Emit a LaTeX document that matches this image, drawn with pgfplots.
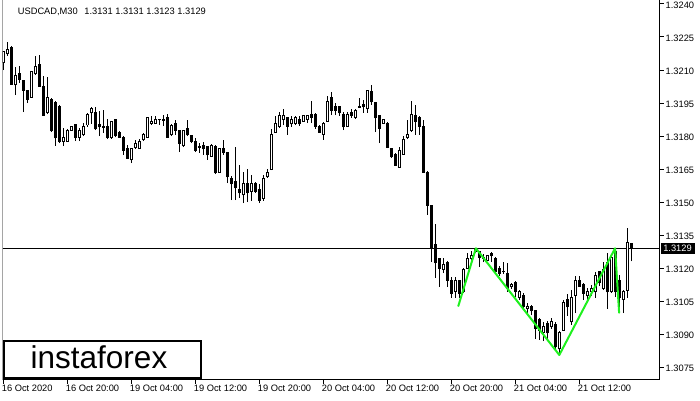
\documentclass[border=0pt]{standalone}
\usepackage{pgfplots}
\pgfplotsset{compat=1.18}
\usepackage{pgfplotstable}
\usepackage{fontspec}
\setmainfont{Liberation Sans}
\newfontfamily\logofont{Liberation Sans}
\definecolor{greenline}{RGB}{30,240,30}
\pgfplotstableread{
i O H L C
0 1.32132 1.32182 1.32100 1.32182
1 1.32173 1.32227 1.32164 1.32191
2 1.32200 1.32209 1.32032 1.32036
3 1.32032 1.32114 1.31986 1.32073
4 1.32082 1.32118 1.32041 1.32059
5 1.32050 1.32055 1.31909 1.32009
6 1.32005 1.32009 1.31950 1.31968
7 1.31977 1.32095 1.31973 1.32091
8 1.32082 1.32164 1.32077 1.32114
9 1.32123 1.32168 1.32023 1.32027
10 1.32023 1.32073 1.31891 1.31895
11 1.31905 1.32068 1.31900 1.31973
12 1.31968 1.31973 1.31818 1.31823
13 1.31950 1.31959 1.31755 1.31791
14 1.31932 1.31941 1.31768 1.31777
15 1.31777 1.31836 1.31755 1.31791
16 1.31777 1.31832 1.31773 1.31823
17 1.31827 1.31845 1.31823 1.31841
18 1.31850 1.31855 1.31777 1.31795
19 1.31795 1.31836 1.31777 1.31823
20 1.31805 1.31859 1.31800 1.31841
21 1.31850 1.31905 1.31841 1.31900
22 1.31905 1.31932 1.31855 1.31923
23 1.31909 1.31932 1.31827 1.31832
24 1.31850 1.31914 1.31800 1.31841
25 1.31842 1.31918 1.31814 1.31839
26 1.31845 1.31877 1.31786 1.31795
27 1.31791 1.31868 1.31786 1.31864
28 1.31873 1.31877 1.31795 1.31800
29 1.31818 1.31823 1.31791 1.31795
30 1.31795 1.31800 1.31714 1.31736
31 1.31745 1.31759 1.31695 1.31700
32 1.31691 1.31745 1.31677 1.31741
33 1.31750 1.31782 1.31741 1.31764
34 1.31745 1.31786 1.31741 1.31773
35 1.31782 1.31814 1.31777 1.31809
36 1.31795 1.31886 1.31791 1.31882
37 1.31859 1.31891 1.31850 1.31868
38 1.31859 1.31891 1.31855 1.31873
39 1.31873 1.31877 1.31850 1.31875
40 1.31872 1.31895 1.31845 1.31873
41 1.31882 1.31900 1.31791 1.31795
42 1.31805 1.31855 1.31800 1.31850
43 1.31859 1.31873 1.31805 1.31827
44 1.31823 1.31827 1.31727 1.31768
45 1.31755 1.31827 1.31750 1.31823
46 1.31832 1.31873 1.31800 1.31805
47 1.31800 1.31805 1.31768 1.31777
48 1.31773 1.31791 1.31727 1.31736
49 1.31752 1.31768 1.31723 1.31750
50 1.31759 1.31773 1.31714 1.31741
51 1.31750 1.31755 1.31691 1.31714
52 1.31709 1.31764 1.31705 1.31759
53 1.31750 1.31759 1.31627 1.31632
54 1.31636 1.31745 1.31632 1.31741
55 1.31741 1.31782 1.31714 1.31727
56 1.31723 1.31727 1.31586 1.31614
57 1.31609 1.31618 1.31509 1.31582
58 1.31591 1.31750 1.31509 1.31564
59 1.31559 1.31668 1.31518 1.31541
60 1.31532 1.31636 1.31495 1.31586
61 1.31582 1.31650 1.31500 1.31541
62 1.31550 1.31623 1.31505 1.31586
63 1.31582 1.31591 1.31541 1.31550
64 1.31559 1.31582 1.31495 1.31509
65 1.31518 1.31623 1.31505 1.31609
66 1.31614 1.31650 1.31609 1.31636
67 1.31650 1.31832 1.31645 1.31809
68 1.31818 1.31891 1.31814 1.31859
69 1.31845 1.31909 1.31836 1.31891
70 1.31877 1.31923 1.31850 1.31891
71 1.31882 1.31886 1.31805 1.31845
72 1.31855 1.31891 1.31841 1.31873
73 1.31859 1.31891 1.31850 1.31882
74 1.31873 1.31891 1.31845 1.31855
75 1.31868 1.31895 1.31864 1.31891
76 1.31877 1.31895 1.31859 1.31891
77 1.31900 1.31959 1.31859 1.31886
78 1.31900 1.31905 1.31832 1.31845
79 1.31841 1.31850 1.31814 1.31818
80 1.31809 1.31864 1.31782 1.31859
81 1.31868 1.31982 1.31864 1.31959
82 1.31973 1.32000 1.31895 1.31918
83 1.31932 1.31950 1.31895 1.31918
84 1.31932 1.31936 1.31891 1.31905
85 1.31900 1.31909 1.31827 1.31841
86 1.31845 1.31909 1.31841 1.31900
87 1.31909 1.31923 1.31882 1.31895
88 1.31886 1.31923 1.31877 1.31918
89 1.31930 1.31973 1.31927 1.31932
90 1.31941 1.31964 1.31905 1.31932
91 1.31923 1.32009 1.31905 1.32005
92 1.32000 1.32032 1.31941 1.31955
93 1.31950 1.31955 1.31818 1.31882
94 1.31891 1.31895 1.31768 1.31836
95 1.31859 1.31877 1.31855 1.31873
96 1.31859 1.31864 1.31745 1.31750
97 1.31741 1.31745 1.31700 1.31705
98 1.31718 1.31723 1.31664 1.31668
99 1.31659 1.31750 1.31655 1.31732
100 1.31718 1.31800 1.31714 1.31782
101 1.31791 1.31873 1.31786 1.31809
102 1.31823 1.31959 1.31818 1.31900
103 1.31891 1.31941 1.31805 1.31868
104 1.31882 1.31891 1.31805 1.31845
105 1.31841 1.31873 1.31632 1.31636
106 1.31632 1.31641 1.31441 1.31486
107 1.31482 1.31486 1.31227 1.31295
108 1.31309 1.31400 1.31155 1.31223
109 1.31241 1.31245 1.31114 1.31200
110 1.31195 1.31245 1.31177 1.31218
111 1.31227 1.31232 1.31114 1.31145
112 1.31145 1.31159 1.31064 1.31086
113 1.31095 1.31159 1.31064 1.31145
114 1.31141 1.31145 1.31064 1.31086
115 1.31091 1.31200 1.31086 1.31191
116 1.31200 1.31268 1.31195 1.31241
117 1.31245 1.31277 1.31236 1.31259
118 1.31282 1.31291 1.31268 1.31273
119 1.31273 1.31277 1.31205 1.31250
120 1.31250 1.31264 1.31227 1.31245
121 1.31236 1.31255 1.31232 1.31255
122 1.31268 1.31273 1.31227 1.31255
123 1.31245 1.31250 1.31173 1.31182
124 1.31200 1.31209 1.31164 1.31173
125 1.31186 1.31227 1.31173 1.31184
126 1.31177 1.31223 1.31091 1.31109
127 1.31114 1.31132 1.31105 1.31127
128 1.31132 1.31141 1.31068 1.31095
129 1.31068 1.31100 1.31055 1.31091
130 1.31077 1.31086 1.31009 1.31023
131 1.31014 1.31041 1.30995 1.31027
132 1.31023 1.31032 1.30986 1.31005
133 1.31005 1.31009 1.30877 1.30927
134 1.30964 1.30973 1.30873 1.30918
135 1.30905 1.30955 1.30868 1.30936
136 1.30950 1.30959 1.30873 1.30905
137 1.30932 1.30973 1.30923 1.30959
138 1.30945 1.30955 1.30827 1.30841
139 1.30832 1.30914 1.30805 1.30905
140 1.30918 1.31055 1.30914 1.31045
141 1.31059 1.31082 1.30982 1.31023
142 1.30955 1.31100 1.30941 1.31068
143 1.31077 1.31164 1.30995 1.31141
144 1.31141 1.31164 1.31114 1.31118
145 1.31127 1.31132 1.31055 1.31086
146 1.31073 1.31109 1.31045 1.31091
147 1.31091 1.31123 1.31073 1.31109
148 1.31091 1.31182 1.31064 1.31168
149 1.31182 1.31186 1.31118 1.31132
150 1.31109 1.31227 1.31100 1.31191
151 1.31223 1.31268 1.31014 1.31091
152 1.31091 1.31259 1.31086 1.31250
153 1.31273 1.31282 1.31068 1.31091
154 1.31145 1.31168 1.30995 1.31068
155 1.31059 1.31100 1.30995 1.31091
156 1.31100 1.31382 1.31064 1.31314
157 1.31310 1.31310 1.31230 1.31290
}\candles
\begin{document}
\begin{tikzpicture}[x=1bp,y=1bp]
\path[use as bounding box] (0,0) rectangle (700,400);
\begin{axis}[
  at={(2.5bp,20.5bp)}, anchor=south west,
  scale only axis, width=657bp, height=379.5bp,
  xmin=-0.25, xmax=164,
  ymin=1.306932, ymax=1.324182,
  axis x line*=bottom, axis y line*=right,
  axis line style={black, line width=1bp},
  tick style={black, line width=1bp},
  tick align=outside, major tick length=4bp,
  minor tick num=0,
  xtick={0,16,32,48,64,80,96,112,128,144},
  xticklabels={16 Oct 2020,16 Oct 20:00,19 Oct 04:00,19 Oct 12:00,19 Oct 20:00,20 Oct 04:00,20 Oct 12:00,20 Oct 20:00,21 Oct 04:00,21 Oct 12:00},
  ytick={1.3075,1.309,1.3105,1.312,1.3135,1.315,1.3165,1.318,1.3195,1.321,1.3225,1.324},
  yticklabels={1.3075,1.3090,1.3105,1.3120,1.3135,1.3150,1.3165,1.3180,1.3195,1.3210,1.3225,1.3240},
  ticklabel style={font=\fontsize{9.3bp}{11bp}\selectfont, inner sep=0pt},
  xticklabel style={anchor=north west, xshift=-1.8bp, yshift=-1.5bp},
  yticklabel style={anchor=west, xshift=2bp, yshift=-1.5bp},
  clip=true,
]
\draw[black, line width=1bp] (rel axis cs:0,0) -- (rel axis cs:0,1);
\addplot[black, line width=1bp, forget plot] coordinates {(-0.25,1.3129) (164,1.3129)};
% wicks
\addplot[draw=none, mark=none, forget plot,
  error bars/.cd, y dir=plus, y explicit, error mark=none,
  error bar style={draw=black, line width=1bp}]
  table[x=i, y=L, y error plus expr={\thisrow{H}-\thisrow{L}}] {\candles};
% body outlines / black bodies
\addplot[draw=none, mark=none, forget plot,
  error bars/.cd, y dir=plus, y explicit, error mark=none,
  error bar style={draw=black, line width=3bp}]
  table[x=i, y expr={min(\thisrow{O},\thisrow{C})-0.0000227}, y error plus expr={abs(\thisrow{C}-\thisrow{O})+0.0000455}] {\candles};
% white interiors of rising candles
\addplot[draw=none, mark=none, forget plot,
  error bars/.cd, y dir=plus, y explicit, error mark=none,
  error bar style={draw=white, line width=1bp}]
  table[x=i, y expr={\thisrow{O}+0.0000227}, y error plus expr={max(\thisrow{C}-\thisrow{O}-0.0000455,0)}] {\candles};
% pattern lines
\addplot[greenline, line width=2bp, line join=round, line cap=round, forget plot]
  coordinates {(113.7,1.310273) (118.1,1.312896) (138.95,1.308046) (152.9,1.312896) (153.9,1.309968)};
\end{axis}
% current price label
\fill[black] (660.5,146.5) rectangle (694.5,157.5);
\node[text=white, inner sep=0pt, font=\fontsize{9.3bp}{11bp}\selectfont] at (677.5,151.5) {1.3129};
% title
\node[anchor=base west, inner sep=0pt, font=\fontsize{9.3bp}{11bp}\selectfont] at (17.7,386) {USDCAD,M30\hspace{6.5bp}1.3131 1.3131 1.3123 1.3129};
% logo
\draw[black, line width=2bp, fill=white] (3.8,22.5) rectangle (200.7,59);
\node[anchor=base west, inner sep=0pt, font=\logofont\fontsize{31.5bp}{35bp}\selectfont] at (30.5,32) {instaforex};
\end{tikzpicture}
\end{document}
